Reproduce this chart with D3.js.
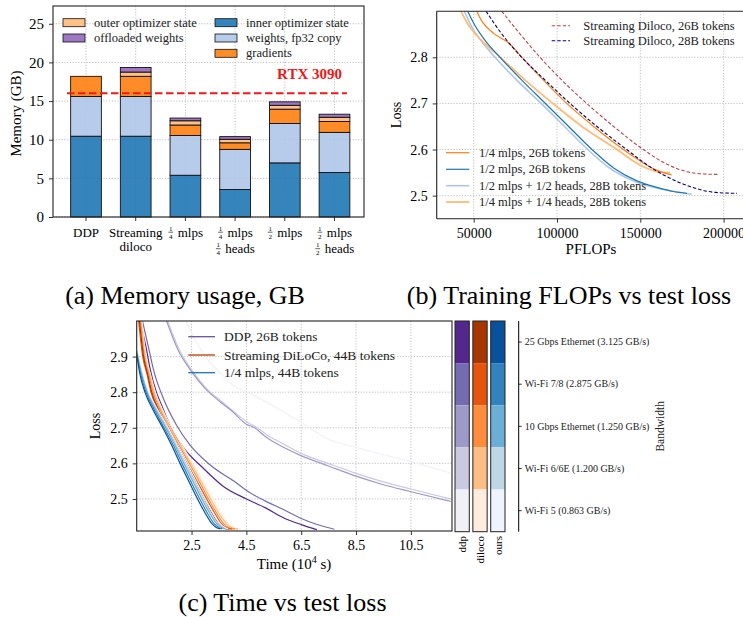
<!DOCTYPE html>
<html>
<head>
<meta charset="utf-8">
<script src="https://cdn.jsdelivr.net/npm/d3@7"></script>
<style>
  body { margin: 0; background: #fff; }
  svg text { font-family: "Liberation Serif", "Times New Roman", serif; fill: #000; }
  .grid line { stroke: #b0b0b0; stroke-width: 0.8; stroke-dasharray: 1.2,1.6; }
</style>
</head>
<body>
<script>
// ---------- (a) memory usage ----------
const memCategories = ['DDP', 'Streaming\ndiloco', '1/4 mlps', '1/4 mlps\n1/4 heads', '1/2 mlps', '1/2 mlps\n1/2 heads'];
const innerOptState = [10.45, 10.45, 5.4, 3.55, 7.0, 5.75];
const weightsFp32 = [5.15, 5.15, 5.15, 5.2, 5.1, 5.2];
const gradients = [2.6, 2.6, 1.35, 0.85, 1.85, 1.4];
const outerOptState = [0, 0.55, 0.55, 0.45, 0.5, 0.55];
const offloadedWeights = [0, 0.6, 0.35, 0.35, 0.45, 0.4];
const memTicks = [0, 5, 10, 15, 20, 25];
const gpuLimit = 16;

// ---------- (b) flops vs loss ----------
const diloco26Flops = [[66800, 2.90], [78000, 2.85], [89800, 2.80], [103000, 2.75], [117800, 2.70], [134000, 2.65], [151800, 2.60], [165000, 2.57], [178000, 2.552], [188000, 2.547], [196800, 2.546]];
const diloco28Flops = [[57400, 2.90], [67000, 2.85], [78800, 2.80], [93000, 2.75], [107800, 2.70], [124000, 2.65], [141800, 2.60], [156000, 2.562], [170000, 2.534], [184000, 2.515], [195000, 2.507], [208000, 2.505]];
const mlps4Flops = [[51800, 2.90], [55000, 2.878], [62000, 2.852], [71400, 2.83], [79000, 2.80], [92000, 2.75], [105800, 2.70], [122000, 2.65], [139800, 2.60], [150000, 2.575], [158000, 2.558], [164000, 2.55], [168800, 2.545]];
const mlps2Flops = [[46400, 2.90], [50000, 2.874], [57400, 2.834], [65800, 2.80], [79000, 2.75], [93000, 2.70], [107000, 2.65], [121000, 2.60], [134000, 2.56], [148000, 2.532], [160000, 2.518], [170000, 2.509], [178000, 2.505]];
const mlps2heads2Flops = [[44400, 2.90], [49400, 2.862], [54000, 2.838], [62800, 2.80], [76000, 2.75], [90500, 2.70], [104500, 2.65], [118500, 2.60], [131500, 2.56], [146000, 2.532], [158000, 2.518], [170000, 2.509], [181000, 2.503]];
const mlps4heads4Flops = [[42400, 2.90], [46000, 2.875], [50000, 2.855], [56000, 2.832], [66000, 2.80], [81000, 2.75], [97500, 2.70], [115000, 2.65], [136000, 2.60], [150000, 2.566], [158000, 2.554], [163000, 2.55], [167800, 2.55]];
const flopsTicks = [50000, 100000, 150000, 200000];
const flopsLossTicks = [2.5, 2.6, 2.7, 2.8];

// ---------- (c) time vs loss ----------
const bandwidths = ['25 Gbps Ethernet (3.125 GB/s)', 'Wi-Fi 7/8 (2.875 GB/s)', '10 Gbps Ethernet (1.250 GB/s)', 'Wi-Fi 6/6E (1.200 GB/s)', 'Wi-Fi 5 (0.863 GB/s)'];
const methods = ['ddp', 'diloco', 'ours'];
const ddpColors = ['#54278f', '#756bb1', '#9e9ac8', '#cbc9e2', '#f2f0f7'];
const dilocoColors = ['#a63603', '#e6550d', '#fd8d3c', '#fdbe85', '#feedde'];
const oursColors = ['#08519c', '#3182bd', '#6baed6', '#bdd7e7', '#eff3ff'];

const ddpTime = [
  [[0.62, 3.0], [0.86, 2.919], [0.985, 2.867], [1.23, 2.797], [1.35, 2.774], [1.71, 2.708], [2.2, 2.645], [2.92, 2.587], [3.65, 2.536], [4.5, 2.50], [5.2, 2.475], [5.83, 2.448], [6.5, 2.428], [7.07, 2.414]],
  [[0.71, 3.0], [0.98, 2.909], [1.1, 2.867], [1.47, 2.783], [1.95, 2.708], [2.44, 2.652], [3.17, 2.596], [4.14, 2.545], [4.62, 2.518], [5.2, 2.494], [5.83, 2.471], [6.5, 2.445], [7.05, 2.429], [7.71, 2.415]],
  [[1.59, 3.0], [2.0, 2.92], [2.5, 2.858], [3.0, 2.81], [3.53, 2.774], [4.0, 2.745], [4.5, 2.71], [4.8, 2.70], [5.2, 2.675], [5.5, 2.66], [6.43, 2.624], [7.52, 2.592], [8.5, 2.564], [9.5, 2.54], [10.47, 2.521], [11.95, 2.493]],
  [[1.63, 3.0], [2.05, 2.92], [2.55, 2.858], [3.05, 2.81], [3.6, 2.774], [4.05, 2.745], [4.55, 2.715], [4.9, 2.70], [5.25, 2.68], [5.6, 2.665], [6.5, 2.628], [7.55, 2.598], [8.5, 2.572], [9.5, 2.548], [10.5, 2.528], [11.95, 2.50]],
  [[2.29, 3.0], [3.0, 2.9], [3.6, 2.85], [4.0, 2.82], [4.62, 2.797], [5.83, 2.746], [6.5, 2.715], [7.52, 2.667], [8.5, 2.645], [9.47, 2.625], [10.5, 2.605], [11.95, 2.573]],
];
const dilocoTime = [
  [[0.6, 3.0], [0.75, 2.9], [0.9, 2.85], [1.05, 2.80], [1.3, 2.75], [1.62, 2.70], [1.98, 2.65], [2.32, 2.60], [2.65, 2.55], [2.98, 2.50], [3.25, 2.46], [3.5, 2.43], [3.7, 2.418], [3.85, 2.415]],
  [[0.57, 3.0], [0.72, 2.9], [0.88, 2.85], [1.02, 2.80], [1.28, 2.75], [1.6, 2.70], [1.97, 2.65], [2.33, 2.60], [2.7, 2.55], [3.05, 2.50], [3.35, 2.46], [3.6, 2.43], [3.8, 2.418], [3.97, 2.415]],
  [[0.63, 3.0], [0.78, 2.9], [0.94, 2.85], [1.1, 2.80], [1.36, 2.75], [1.68, 2.70], [2.05, 2.65], [2.42, 2.60], [2.78, 2.55], [3.12, 2.50], [3.42, 2.46], [3.68, 2.43], [3.9, 2.418], [4.08, 2.415]],
  [[0.66, 3.0], [0.81, 2.9], [0.97, 2.85], [1.14, 2.80], [1.4, 2.75], [1.73, 2.70], [2.1, 2.65], [2.48, 2.60], [2.85, 2.55], [3.2, 2.50], [3.5, 2.46], [3.78, 2.43], [4.0, 2.418], [4.2, 2.415]],
  [[0.69, 3.0], [0.84, 2.9], [1.0, 2.85], [1.18, 2.80], [1.45, 2.75], [1.78, 2.70], [2.16, 2.65], [2.55, 2.60], [2.92, 2.55], [3.28, 2.50], [3.58, 2.46], [3.86, 2.43], [4.08, 2.418], [4.3, 2.415]],
];
const oursTime = [
  [[0.5, 2.905], [0.62, 2.85], [0.8, 2.80], [1.1, 2.75], [1.45, 2.70], [1.78, 2.65], [2.08, 2.60], [2.4, 2.55], [2.72, 2.50], [3.0, 2.46], [3.25, 2.43], [3.4, 2.42], [3.55, 2.416]],
  [[0.5, 2.91], [0.65, 2.85], [0.84, 2.80], [1.15, 2.75], [1.5, 2.70], [1.84, 2.65], [2.15, 2.60], [2.47, 2.55], [2.8, 2.50], [3.08, 2.46], [3.33, 2.43], [3.5, 2.42], [3.62, 2.416]],
  [[0.5, 2.915], [0.68, 2.85], [0.88, 2.80], [1.2, 2.75], [1.56, 2.70], [1.9, 2.65], [2.22, 2.60], [2.55, 2.55], [2.88, 2.50], [3.16, 2.46], [3.42, 2.43], [3.6, 2.42], [3.72, 2.416]],
  [[0.5, 2.918], [0.7, 2.85], [0.9, 2.80], [1.23, 2.75], [1.6, 2.70], [1.94, 2.65], [2.27, 2.60], [2.6, 2.55], [2.93, 2.50], [3.21, 2.46], [3.47, 2.43], [3.65, 2.42], [3.78, 2.416]],
  [[0.5, 2.92], [0.72, 2.85], [0.93, 2.80], [1.27, 2.75], [1.64, 2.70], [1.98, 2.65], [2.32, 2.60], [2.66, 2.55], [2.99, 2.50], [3.28, 2.46], [3.54, 2.43], [3.72, 2.42], [3.84, 2.416]],
];
const timeTicks = [2.5, 4.5, 6.5, 8.5, 10.5];
const timeLossTicks = [2.5, 2.6, 2.7, 2.8, 2.9];

// ---------- helpers ----------
const svg = d3.select('body').append('svg')
  .attr('width', 743)
  .attr('height', 617);
svg.append('rect').attr('width', 743).attr('height', 617).attr('fill', '#fff');
const defs = svg.append('defs');

function styleAxis(sel, size) {
  sel.select('.domain').remove();
  sel.selectAll('.tick line').attr('stroke', '#000').attr('stroke-width', 0.8);
  sel.selectAll('.tick text').style('font-size', `${size}px`);
}

function frame(x0, y0, x1, y1) {
  svg.append('rect')
    .attr('x', x0).attr('y', y0)
    .attr('width', x1 - x0).attr('height', y1 - y0)
    .attr('fill', 'none').attr('stroke', '#222').attr('stroke-width', 1.1);
}

function clip(id, x0, y0, x1, y1) {
  defs.append('clipPath').attr('id', id).append('rect')
    .attr('x', x0).attr('y', y0).attr('width', x1 - x0).attr('height', y1 - y0);
}

// width of a string at a font size
function measure(txt, size) {
  const t = svg.append('text').style('font-size', `${size}px`).text(txt);
  const w = t.node().getComputedTextLength();
  t.remove();
  return w;
}

// ================= panel (a) =================
const aBox = { left: 53, right: 364, top: 6, bottom: 217 };
const xa = d3.scaleBand().domain(memCategories).range([aBox.left, aBox.right])
  .paddingInner(0.382).paddingOuter(0.32).align(0.555);
const ya = d3.scaleLinear().domain([0, 27.3]).range([aBox.bottom, aBox.top]);

// grid
const ga = svg.append('g').attr('class', 'grid');
ga.selectAll('.gy').data(memTicks).join('line')
  .attr('x1', aBox.left).attr('x2', aBox.right)
  .attr('y1', d => ya(d)).attr('y2', d => ya(d));
ga.selectAll('.gx').data(memCategories).join('line')
  .attr('x1', d => xa(d) + xa.bandwidth() / 2).attr('x2', d => xa(d) + xa.bandwidth() / 2)
  .attr('y1', aBox.top).attr('y2', aBox.bottom);

// stacked bars
const memKeys = ['inner', 'weights', 'grad', 'outer', 'offload'];
const memColors = { inner: '#1f77b4', weights: '#aec7e8', grad: '#ff7f0e', outer: '#ffbb78', offload: '#9467bd' };
const memRows = memCategories.map((c, i) => ({
  cat: c,
  inner: innerOptState[i],
  weights: weightsFp32[i],
  grad: gradients[i],
  outer: outerOptState[i],
  offload: offloadedWeights[i],
}));
const stacked = d3.stack().keys(memKeys)(memRows);
stacked.forEach((layer) => {
  svg.append('g').selectAll('rect')
    .data(layer.filter(d => d[1] - d[0] > 0))
    .join('rect')
    .attr('x', d => xa(d.data.cat))
    .attr('width', xa.bandwidth())
    .attr('y', d => ya(d[1]))
    .attr('height', d => ya(d[0]) - ya(d[1]))
    .attr('fill', memColors[layer.key])
    .attr('fill-opacity', 0.9)
    .attr('stroke', '#111')
    .attr('stroke-width', 0.9);
});

// gpu memory line
const aw = aBox.right - aBox.left;
svg.append('line')
  .attr('x1', aBox.left + aw * 0.045).attr('x2', aBox.left + aw * 0.945)
  .attr('y1', ya(gpuLimit)).attr('y2', ya(gpuLimit))
  .attr('stroke', '#f01818').attr('stroke-width', 2)
  .attr('stroke-dasharray', '7.5,3.5');
svg.append('text')
  .attr('x', 342).attr('y', 79)
  .attr('text-anchor', 'end')
  .style('font-size', '15px').style('font-weight', 'bold')
  .style('fill', '#f01818')
  .text('RTX 3090');

// axes
const ayAxis = svg.append('g').attr('transform', `translate(${aBox.left},0)`)
  .call(d3.axisLeft(ya).tickValues(memTicks).tickSize(4).tickPadding(5));
styleAxis(ayAxis, 15);
const axAxis = svg.append('g').attr('transform', `translate(0,${aBox.bottom})`)
  .call(d3.axisBottom(xa).tickSize(4).tickFormat(''));
styleAxis(axAxis, 13);

// category labels (one text per category), fractions stacked with tspans
memCategories.forEach((cat) => {
  const cx = xa(cat) + xa.bandwidth() / 2;
  const label = svg.append('text').style('font-size', '13px');
  cat.split('\n').forEach((ln, i) => {
    const m = ln.match(/^(\d)\/(\d) (.*)$/);
    const base = 236.5 + i * (m ? 16.5 : 14.5);
    if (m) {
      const w = 10 + measure(m[3], 13);
      const x0 = cx - w / 2;
      label.append('tspan').attr('x', x0 + 3).attr('y', base - 5.8)
        .attr('text-anchor', 'middle').style('font-size', '7px').text(m[1]);
      label.append('tspan').attr('x', x0 + 3).attr('y', base + 2.4)
        .attr('text-anchor', 'middle').style('font-size', '7px').text(m[2]);
      label.append('tspan').attr('x', x0 + 10).attr('y', base)
        .attr('text-anchor', 'start').text(m[3]);
      svg.append('line').attr('x1', x0 + 0.6).attr('x2', x0 + 5.4)
        .attr('y1', base - 4.3).attr('y2', base - 4.3)
        .attr('stroke', '#000').attr('stroke-width', 0.6);
    } else {
      label.append('tspan').attr('x', cx).attr('y', base)
        .attr('text-anchor', 'middle').text(ln);
    }
  });
});

svg.append('text')
  .attr('transform', `translate(21,${(aBox.top + aBox.bottom) / 2 + 2}) rotate(-90)`)
  .attr('text-anchor', 'middle')
  .style('font-size', '15px')
  .text('Memory (GB)');

frame(aBox.left, aBox.top, aBox.right, aBox.bottom);

// legend (a)
const memLegend = [
  { key: 'outer', label: 'outer optimizer state', x: 63, y: 22.7 },
  { key: 'offload', label: 'offloaded weights', x: 63, y: 38 },
  { key: 'inner', label: 'inner optimizer state', x: 215, y: 22.7 },
  { key: 'weights', label: 'weights, fp32 copy', x: 215, y: 38 },
  { key: 'grad', label: 'gradients', x: 215, y: 53.3 },
];
memLegend.forEach((d) => {
  svg.append('rect').attr('x', d.x).attr('y', d.y - 4).attr('width', 22).attr('height', 8)
    .attr('fill', memColors[d.key]).attr('fill-opacity', 0.9)
    .attr('stroke', '#111').attr('stroke-width', 0.8);
  svg.append('text').attr('x', d.x + 31).attr('y', d.y + 4)
    .style('font-size', '12.5px').style('fill', '#222').text(d.label);
});

svg.append('text').attr('x', 185).attr('y', 304).attr('text-anchor', 'middle')
  .style('font-size', '26px').text('(a) Memory usage, GB');

// ================= panel (b) =================
const bBox = { left: 436.7, right: 743.6, top: 11.2, bottom: 218.7 };
const xb = d3.scaleLinear().domain([27800, 212000]).range([bBox.left, bBox.right]);
const yb = d3.scaleLinear().domain([2.45, 2.9]).range([bBox.bottom, bBox.top]);
clip('clipB', bBox.left, bBox.top, bBox.right, bBox.bottom);

const gb = svg.append('g').attr('class', 'grid');
gb.selectAll('.gx').data(flopsTicks).join('line')
  .attr('x1', d => xb(d)).attr('x2', d => xb(d)).attr('y1', bBox.top).attr('y2', bBox.bottom);
gb.selectAll('.gy').data(flopsLossTicks).join('line')
  .attr('x1', bBox.left).attr('x2', bBox.right).attr('y1', d => yb(d)).attr('y2', d => yb(d));

const flopsSeries = [
  { name: '1/2 mlps + 1/2 heads, 28B tokens', data: mlps2heads2Flops, color: '#aec7e8', width: 1.6, dash: null },
  { name: '1/4 mlps + 1/4 heads, 28B tokens', data: mlps4heads4Flops, color: '#ffbb78', width: 1.8, dash: null },
  { name: '1/2 mlps, 26B tokens', data: mlps2Flops, color: '#1f77b4', width: 1.2, dash: null },
  { name: '1/4 mlps, 26B tokens', data: mlps4Flops, color: '#ff7f0e', width: 1.2, dash: null },
  { name: 'Streaming Diloco, 26B tokens', data: diloco26Flops, color: '#b5474c', width: 1.1, dash: '3.5,2' },
  { name: 'Streaming Diloco, 28B tokens', data: diloco28Flops, color: '#000080', width: 1.1, dash: '3.5,2' },
];
const lineB = d3.line().x(d => xb(d[0])).y(d => yb(d[1])).curve(d3.curveMonotoneX);
const gbLines = svg.append('g').attr('clip-path', 'url(#clipB)');
flopsSeries.forEach((s) => {
  gbLines.append('path').datum(s.data)
    .attr('d', lineB)
    .attr('fill', 'none')
    .attr('stroke', s.color)
    .attr('stroke-width', s.width)
    .attr('stroke-dasharray', s.dash);
});

const byAxis = svg.append('g').attr('transform', `translate(${bBox.left},0)`)
  .call(d3.axisLeft(yb).tickValues(flopsLossTicks).tickFormat(d3.format('.1f')).tickSize(4).tickPadding(5));
styleAxis(byAxis, 14);
const bxAxis = svg.append('g').attr('transform', `translate(0,${bBox.bottom})`)
  .call(d3.axisBottom(xb).tickValues(flopsTicks).tickFormat(d3.format('d')).tickSize(4).tickPadding(5));
styleAxis(bxAxis, 14);

svg.append('line').attr('x1', bBox.left).attr('x2', bBox.right).attr('y1', bBox.top).attr('y2', bBox.top)
  .attr('stroke', '#222').attr('stroke-width', 1.1);
svg.append('line').attr('x1', bBox.left).attr('x2', bBox.right).attr('y1', bBox.bottom).attr('y2', bBox.bottom)
  .attr('stroke', '#222').attr('stroke-width', 1.1);
svg.append('line').attr('x1', bBox.left).attr('x2', bBox.left).attr('y1', bBox.top).attr('y2', bBox.bottom)
  .attr('stroke', '#222').attr('stroke-width', 1.1);

svg.append('text')
  .attr('transform', `translate(401,${(bBox.top + bBox.bottom) / 2}) rotate(-90)`)
  .attr('text-anchor', 'middle').style('font-size', '14px').text('Loss');
svg.append('text').attr('x', 591).attr('y', 254).attr('text-anchor', 'middle')
  .style('font-size', '15px').text('PFLOPs');

// legends (b)
const bLegTop = [
  { s: flopsSeries[4], y: 25.7 },
  { s: flopsSeries[5], y: 40.7 },
];
bLegTop.forEach((d) => {
  svg.append('line').attr('x1', 551.7).attr('x2', 570).attr('y1', d.y).attr('y2', d.y)
    .attr('stroke', d.s.color).attr('stroke-width', d.s.width).attr('stroke-dasharray', d.s.dash);
  svg.append('text').attr('x', 583.3).attr('y', d.y + 4).style('font-size', '12.5px')
    .style('fill', '#222').text(d.s.name);
});
const bLegBottom = [
  { s: flopsSeries[3], y: 152.7 },
  { s: flopsSeries[2], y: 169.3 },
  { s: flopsSeries[0], y: 185.7 },
  { s: flopsSeries[1], y: 202 },
];
bLegBottom.forEach((d) => {
  svg.append('line').attr('x1', 446).attr('x2', 469.3).attr('y1', d.y).attr('y2', d.y)
    .attr('stroke', d.s.color).attr('stroke-width', d.s.width);
  svg.append('text').attr('x', 479).attr('y', d.y + 4).style('font-size', '12.5px')
    .style('fill', '#222').text(d.s.name);
});

svg.append('text').attr('x', 569).attr('y', 304).attr('text-anchor', 'middle')
  .style('font-size', '26px').text('(b) Training FLOPs vs test loss');

// ================= panel (c) =================
const cBox = { left: 136.7, right: 452, top: 321, bottom: 531 };
const xc = d3.scaleLinear().domain([0.5, 12]).range([cBox.left, cBox.right]);
const yc = d3.scaleLinear().domain([2.41, 3.0]).range([cBox.bottom, cBox.top]);
clip('clipC', cBox.left, cBox.top, cBox.right, cBox.bottom);

const gc = svg.append('g').attr('class', 'grid');
gc.selectAll('.gx').data(timeTicks).join('line')
  .attr('x1', d => xc(d)).attr('x2', d => xc(d)).attr('y1', cBox.top).attr('y2', cBox.bottom);
gc.selectAll('.gy').data(timeLossTicks).join('line')
  .attr('x1', cBox.left).attr('x2', cBox.right).attr('y1', d => yc(d)).attr('y2', d => yc(d));

const lineC = d3.line().x(d => xc(d[0])).y(d => yc(d[1])).curve(d3.curveMonotoneX);
const gcLines = svg.append('g').attr('clip-path', 'url(#clipC)');
const timeFamilies = [
  { runs: ddpTime, colors: ddpColors },
  { runs: dilocoTime, colors: dilocoColors },
  { runs: oursTime, colors: oursColors },
];
timeFamilies.forEach((fam) => {
  for (let i = fam.runs.length - 1; i >= 0; i -= 1) {
    gcLines.append('path').datum(fam.runs[i])
      .attr('d', lineC)
      .attr('fill', 'none')
      .attr('stroke', fam.colors[i])
      .attr('stroke-width', 1.2);
  }
});

const cyAxis = svg.append('g').attr('transform', `translate(${cBox.left},0)`)
  .call(d3.axisLeft(yc).tickValues(timeLossTicks).tickFormat(d3.format('.1f')).tickSize(4).tickPadding(5));
styleAxis(cyAxis, 14);
const cxAxis = svg.append('g').attr('transform', `translate(0,${cBox.bottom})`)
  .call(d3.axisBottom(xc).tickValues(timeTicks).tickFormat(d3.format('.1f')).tickSize(4).tickPadding(5));
styleAxis(cxAxis, 14);
frame(cBox.left, cBox.top, cBox.right, cBox.bottom);

svg.append('text')
  .attr('transform', `translate(100,${(cBox.top + cBox.bottom) / 2}) rotate(-90)`)
  .attr('text-anchor', 'middle').style('font-size', '14px').text('Loss');
const tl = svg.append('text').attr('x', 294).attr('y', 569).attr('text-anchor', 'middle')
  .style('font-size', '15px');
tl.append('tspan').text('Time (10');
tl.append('tspan').attr('dy', -6).style('font-size', '10px').text('4');
tl.append('tspan').attr('dy', 6).text(' s)');

// legend (c)
const cLegend = [
  { label: 'DDP, 26B tokens', color: '#6a51a3', y: 336.7 },
  { label: 'Streaming DiLoCo, 44B tokens', color: '#b83c08', y: 355 },
  { label: '1/4 mlps, 44B tokens', color: '#2171b5', y: 372.7 },
];
cLegend.forEach((d) => {
  svg.append('line').attr('x1', 188.3).attr('x2', 215).attr('y1', d.y).attr('y2', d.y)
    .attr('stroke', d.color).attr('stroke-width', 1.3);
  svg.append('text').attr('x', 224).attr('y', d.y + 4.5).style('font-size', '13.5px')
    .style('fill', '#222').text(d.label);
});

// colour bars
const xm = d3.scaleBand().domain(methods).range([455, 505]).paddingInner(0.2);
const ybw = d3.scaleBand().domain(bandwidths).range([cBox.top, 531.7]);
const methodColors = { ddp: ddpColors, diloco: dilocoColors, ours: oursColors };
methods.forEach((m) => {
  svg.append('g').selectAll('rect').data(bandwidths).join('rect')
    .attr('x', xm(m)).attr('width', xm.bandwidth())
    .attr('y', d => ybw(d)).attr('height', ybw.bandwidth())
    .attr('fill', (d, i) => methodColors[m][i]);
  svg.append('rect').attr('x', xm(m)).attr('y', cBox.top)
    .attr('width', xm.bandwidth()).attr('height', 531.7 - cBox.top)
    .attr('fill', 'none').attr('stroke', '#222').attr('stroke-width', 1);
  svg.append('text')
    .attr('transform', `translate(${xm(m) + xm.bandwidth() / 2 + 4},536) rotate(-90)`)
    .attr('text-anchor', 'end').style('font-size', '11px').text(m);
});

const bwAxis = svg.append('g').attr('transform', 'translate(518.7,0)')
  .call(d3.axisRight(ybw).tickSize(3).tickPadding(3));
bwAxis.select('.domain').attr('d', `M0,${cBox.top}V531.7`).attr('stroke', '#000').attr('stroke-width', 1);
bwAxis.selectAll('.tick line').attr('stroke', '#000').attr('stroke-width', 0.8);
bwAxis.selectAll('.tick text').style('font-size', '10px').style('fill', '#222');

svg.append('text')
  .attr('transform', `translate(664,${(cBox.top + 531.7) / 2}) rotate(-90)`)
  .attr('text-anchor', 'middle').style('font-size', '11.5px').style('fill', '#222').text('Bandwidth');

svg.append('text').attr('x', 282.5).attr('y', 611).attr('text-anchor', 'middle')
  .style('font-size', '26px').text('(c) Time vs test loss');
</script>
</body>
</html>
